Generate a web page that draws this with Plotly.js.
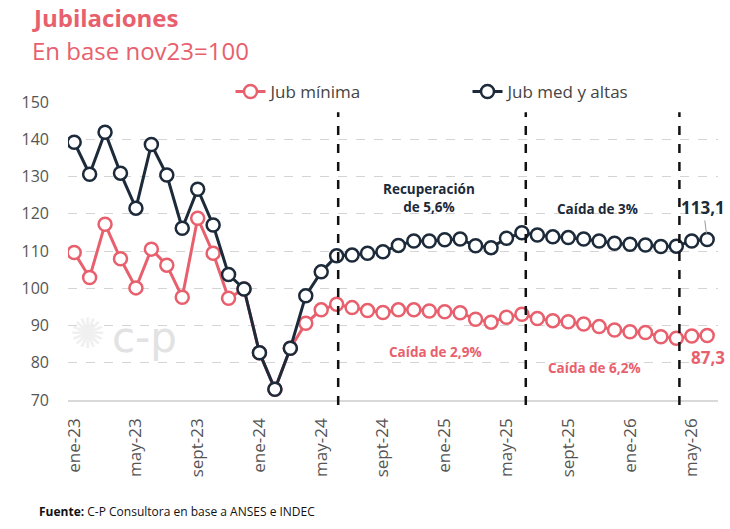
<!DOCTYPE html>
<html>
<head>
<meta charset="utf-8">
<script src="https://cdn.plot.ly/plotly-3.0.1.min.js"></script>
<style>
  html, body { margin: 0; padding: 0; background: #ffffff; }
  #chart { width: 730px; height: 529px; }
</style>
</head>
<body>
<div id="chart"></div>
<script>
const months = [
  "ene-23","feb-23","mar-23","abr-23","may-23","jun-23","jul-23","ago-23","sept-23","oct-23","nov-23","dic-23",
  "ene-24","feb-24","mar-24","abr-24","may-24","jun-24","jul-24","ago-24","sept-24","oct-24","nov-24","dic-24",
  "ene-25","feb-25","mar-25","abr-25","may-25","jun-25","jul-25","ago-25","sept-25","oct-25","nov-25","dic-25",
  "ene-26","feb-26","mar-26","abr-26","may-26","jun-26"
];
const jubMinima = [
  109.6, 102.9, 117.2, 107.9, 100.1, 110.5, 106.2, 97.6, 118.8, 109.4, 97.3, 99.8,
  82.7, 72.9, 83.9, 90.6, 94.2, 95.7, 94.8, 94.0, 93.5, 94.2, 94.2, 93.9,
  93.7, 93.4, 91.7, 90.9, 92.2, 93.0, 91.9, 91.3, 91.0, 90.4, 89.7, 88.8,
  88.3, 88.1, 87.0, 86.6, 87.2, 87.3
];
const jubMedAltas = [
  139.2, 130.6, 141.9, 130.9, 121.5, 138.6, 130.4, 116.1, 126.6, 117.0, 103.7, 99.8,
  82.7, 72.9, 83.9, 98.0, 104.4, 108.7, 108.9, 109.4, 109.8, 111.5, 112.7, 112.7,
  113.0, 113.2, 111.4, 110.9, 113.4, 114.9, 114.3, 113.8, 113.6, 113.2, 112.7, 112.1,
  111.8, 111.6, 111.2, 111.3, 112.7, 113.1
];
const tickMonths = ["ene-23","may-23","sept-23","ene-24","may-24","sept-24","ene-25","may-25","sept-25","ene-26","may-26"];
const seriesNames = ["Jub mínima", "Jub med y altas"];
const breakPositions = [17.1, 29.25, 39.2];

const RED = "#e8606d";
const NAVY = "#1c2a3a";
const FONT = "Open Sans, Lato, sans-serif";

const traces = [
  {
    x: months, y: jubMinima, name: seriesNames[0], type: "scatter", mode: "lines+markers",
    line: {color: RED, width: 3},
    marker: {symbol: "circle", size: 13, color: "#ffffff", line: {color: RED, width: 2.5}},
    hoverinfo: "x+y"
  },
  {
    x: months, y: jubMedAltas, name: seriesNames[1], type: "scatter", mode: "lines+markers",
    line: {color: NAVY, width: 3},
    marker: {symbol: "circle", size: 13, color: "#ffffff", line: {color: NAVY, width: 2.5}},
    hoverinfo: "x+y"
  }
];

const shapes = breakPositions.map(p => ({
  type: "line", xref: "x", yref: "paper", x0: p, x1: p, y0: -0.017, y1: 0.966,
  line: {color: "#111111", width: 2.5, dash: "dash"}, layer: "above"
}));

const last = months.length - 1;
const annotations = [
  {x: -0.058, y: 1.285, xref: "paper", yref: "paper", xanchor: "left", yanchor: "middle",
   text: "<b>Jubilaciones</b>", showarrow: false, font: {family: FONT, size: 24, color: RED}},
  {x: -0.058, y: 1.172, xref: "paper", yref: "paper", xanchor: "left", yanchor: "middle",
   text: "En base nov23=100", showarrow: false, font: {family: FONT, size: 24, color: RED}},
  {x: 23, y: 124.3, xref: "x", yref: "y", text: "<b>Recuperación<br>de 5,6%</b>", showarrow: false,
   font: {family: FONT, size: 13.5, color: NAVY}, align: "center"},
  {x: 33.9, y: 121.3, xref: "x", yref: "y", text: "<b>Caída de 3%</b>", showarrow: false,
   font: {family: FONT, size: 13.5, color: NAVY}},
  {x: 23.4, y: 82.9, xref: "x", yref: "y", text: "<b>Caída de 2,9%</b>", showarrow: false,
   font: {family: FONT, size: 13.5, color: RED}},
  {x: 33.7, y: 78.6, xref: "x", yref: "y", text: "<b>Caída de 6,2%</b>", showarrow: false,
   font: {family: FONT, size: 13.5, color: RED}},
  {x: months[last], y: jubMedAltas[last], xref: "x", yref: "y", text: "<b>113,1</b>",
   showarrow: true, arrowhead: 0, arrowwidth: 1, arrowcolor: "#999999", ax: -4, ay: -32, standoff: 6,
   font: {family: FONT, size: 17, color: NAVY}},
  {x: months[last], y: jubMinima[last], xref: "x", yref: "y", text: "<b>87,3</b>",
   showarrow: false, yshift: -22, xshift: 1,
   font: {family: FONT, size: 17, color: RED}},
  {x: 0.0, y: 0.135, xref: "paper", yref: "paper", text: "✺", showarrow: false, xanchor: "left",
   font: {family: "DejaVu Sans, sans-serif", size: 42, color: "#f0f0f0"}},
  {x: 0.065, y: 0.12, xref: "paper", yref: "paper", text: "c-p", showarrow: false, xanchor: "left",
   font: {family: "DejaVu Sans, sans-serif", size: 42, color: "#e2e2e2"}},
  {x: -0.048, y: -0.375, xref: "paper", yref: "paper", xanchor: "left", yanchor: "middle",
   text: "<b>Fuente:</b> C-P Consultora en base a ANSES e INDEC", showarrow: false,
   font: {family: FONT, size: 12, color: "#111111"}}
];

const layout = {
  width: 730, height: 529,
  margin: {l: 68, r: 12, t: 102, b: 129},
  paper_bgcolor: "#ffffff", plot_bgcolor: "#ffffff",
  font: {family: FONT, color: "#555555"},
  showlegend: true,
  legend: {
    orientation: "h", x: 0.25, xanchor: "left", y: 1.034, yanchor: "middle",
    font: {family: FONT, size: 17, color: "#444444"}, entrywidth: 192, bgcolor: "rgba(0,0,0,0)"
  },
  xaxis: {
    type: "category", range: [-0.4, 41.7],
    tickmode: "array", tickvals: tickMonths, ticktext: tickMonths,
    tickangle: -90, ticks: "", ticklabelstandoff: 10,
    tickfont: {family: FONT, size: 17, color: "#555555"},
    showgrid: false, showline: true, linecolor: "#d9d9d9", linewidth: 1.5, zeroline: false,
    fixedrange: true
  },
  yaxis: {
    range: [70, 150], dtick: 10, tick0: 70,
    tickfont: {family: FONT, size: 16, color: "#555555"},
    showgrid: true, gridcolor: "#d4d4d4", gridwidth: 1, griddash: "dash",
    zeroline: false, showline: false, ticks: "", ticklabelstandoff: 18, fixedrange: true
  },
  shapes: shapes,
  annotations: annotations
};

Plotly.newPlot("chart", traces, layout, {displayModeBar: false, staticPlot: true});
</script>
</body>
</html>
